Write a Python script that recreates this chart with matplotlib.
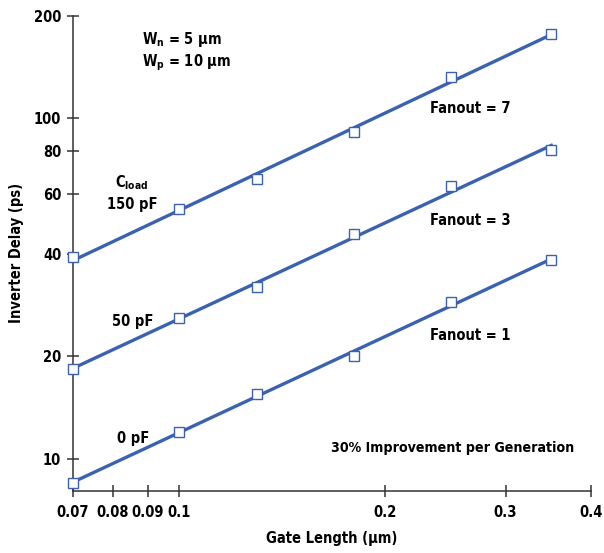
# inverter delay vs gate length, log-log, three load cases
import numpy as np
import matplotlib.pyplot as plt
from matplotlib.ticker import FixedLocator, NullLocator

plt.rcParams['font.family'] = ['DejaVu Sans']
plt.rcParams['font.stretch'] = 'condensed'
plt.rcParams['font.weight'] = 'bold'
plt.rcParams['axes.labelweight'] = 'bold'
plt.rcParams['mathtext.default'] = 'regular'

gate_length = [0.07, 0.1, 0.13, 0.18, 0.25, 0.35]
delay_150pf = [39.1, 54.0, 66.2, 91.3, 132.4, 176.4]
delay_50pf = [18.4, 25.9, 32.0, 45.6, 63.2, 80.5]
delay_0pf = [8.52, 12.0, 15.5, 20.0, 28.9, 38.4]

xticks = [0.07, 0.08, 0.09, 0.1, 0.2, 0.3, 0.4]
xticklabels = ['0.07', '0.08', '0.09', '0.1', '0.2', '0.3', '0.4']
yticks = [10, 20, 40, 60, 80, 100, 200]

blue = '#3a62b0'
fs = 10.5

fig = plt.figure(figsize=(6.04, 5.53), dpi=100)
ax = fig.add_axes([0.1209, 0.1127, 0.8576, 0.8589])
ax.set_xscale('log')
ax.set_yscale('log')

lx = np.log10(gate_length)
for d in [delay_150pf, delay_50pf, delay_0pf]:
    k, b = np.polyfit(lx, np.log10(d), 1)
    xs = np.array([lx.min(), lx.max()])
    ax.plot(10**xs, 10**(k*xs + b), color=blue, lw=2.4, zorder=2, clip_on=False)
    ax.plot(gate_length, d, ls='none', marker='s', ms=7.8, mfc='white',
            mec=blue, mew=1.0, zorder=3, clip_on=False)

ax.set_xlim(0.07, 0.4)
ax.set_ylim(8.07, 200)
ax.xaxis.set_major_locator(FixedLocator(xticks))
ax.xaxis.set_minor_locator(NullLocator())
ax.set_xticklabels(xticklabels)
ax.yaxis.set_major_locator(FixedLocator(yticks))
ax.yaxis.set_minor_locator(NullLocator())
ax.set_yticklabels([str(v) for v in yticks])
ax.tick_params(direction='inout', length=9, width=1.1, color='#333333',
               labelsize=fs, pad=4)
ax.tick_params(axis='x', pad=6)
for s in ['top', 'right']:
    ax.spines[s].set_visible(False)
for s in ['left', 'bottom']:
    ax.spines[s].set_color('#333333')
    ax.spines[s].set_linewidth(1.1)

ax.set_xlabel('Gate Length (\u00b5m)', fontsize=fs, labelpad=8)
ax.set_ylabel('Inverter Delay (ps)', fontsize=fs, labelpad=7)

ax.text(0.0883, 169.8, 'W$_\\mathregular{n}$ = 5 \u00b5m', fontsize=fs, va='center', ha='left')
ax.text(0.0883, 145.3, 'W$_\\mathregular{p}$ = 10 \u00b5m', fontsize=fs, va='center', ha='left')
ax.text(0.0854, 64.9, 'C$_\\mathregular{load}$', fontsize=fs, va='center', ha='center')
ax.text(0.0854, 56.0, '150 pF', fontsize=fs, va='center', ha='center')
ax.text(0.0856, 25.4, '50 pF', fontsize=fs, va='center', ha='center')
ax.text(0.0856, 11.5, '0 pF', fontsize=fs, va='center', ha='center')
ax.text(0.233, 107, 'Fanout = 7', fontsize=fs, va='center', ha='left')
ax.text(0.233, 50.2, 'Fanout = 3', fontsize=fs, va='center', ha='left')
ax.text(0.233, 23.1, 'Fanout = 1', fontsize=fs, va='center', ha='left')
ax.text(0.167, 10.75, '30% Improvement per Generation', fontsize=10.2, va='center', ha='left')

fig.savefig('out.png', dpi=100)
